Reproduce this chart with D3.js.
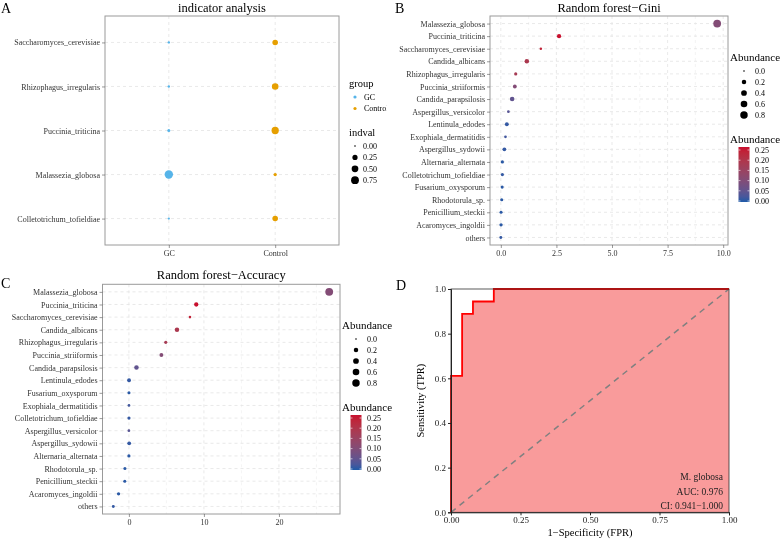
<!DOCTYPE html>
<html><head><meta charset="utf-8">
<script src="https://cdn.jsdelivr.net/npm/d3@7"></script>
<style>
body{margin:0;background:#fff}
#wrap{will-change:transform;width:784px;height:541px}
svg{display:block}
text{font-family:"Liberation Serif","Times New Roman",serif;-webkit-font-smoothing:antialiased}
</style>
</head><body>
<div id="wrap"><svg id="chart" width="784" height="541"></svg></div>
<script>
// ---------- Panel A: indicator analysis ----------
const indCats = ["Saccharomyces_cerevisiae","Rhizophagus_irregularis","Puccinia_triticina","Malassezia_globosa","Colletotrichum_tofieldiae"];
const indGroups = ["GC","Control"];
const indGC = [0.012,0.012,0.04,0.9,0.008];
const indControl = [0.31,0.49,0.63,0.056,0.31];
const indLegendTicks = [0,0.25,0.5,0.75];
const groupColors = ["#56B4E9","#E69F00"];

// ---------- Species abundance (size & colour) ----------
const species = ["Malassezia_globosa","Puccinia_triticina","Saccharomyces_cerevisiae","Candida_albicans","Rhizophagus_irregularis","Puccinia_striiformis","Candida_parapsilosis","Aspergillus_versicolor","Lentinula_edodes","Exophiala_dermatitidis","Aspergillus_sydowii","Alternaria_alternata","Colletotrichum_tofieldiae","Fusarium_oxysporum","Rhodotorula_sp.","Penicillium_steckii","Acaromyces_ingoldii","others"];
const abundSize  = [0.9,0.17,0.02,0.2,0.06,0.12,0.2,0.03,0.12,0.03,0.11,0.06,0.06,0.05,0.05,0.05,0.07,0.04];
const abundColor = [0.10,0.25,0.23,0.18,0.17,0.10,0.05,0.04,0.01,0.02,0.01,0.005,0.01,0.005,0.005,0.005,0.005,0.01];

// ---------- Panel B: Random forest - Gini ----------
const giniCats = species.slice();
const giniVals = [9.73,2.62,1.80,1.17,0.67,0.63,0.51,0.34,0.27,0.21,0.16,0.07,0.07,0.06,0.04,0.01,0.01,0.0];
const giniTicks = [0,2.5,5,7.5,10];

// ---------- Panel C: Random forest - Accuracy ----------
const accCats = ["Malassezia_globosa","Puccinia_triticina","Saccharomyces_cerevisiae","Candida_albicans","Rhizophagus_irregularis","Puccinia_striiformis","Candida_parapsilosis","Lentinula_edodes","Fusarium_oxysporum","Exophiala_dermatitidis","Colletotrichum_tofieldiae","Aspergillus_versicolor","Aspergillus_sydowii","Alternaria_alternata","Rhodotorula_sp.","Penicillium_steckii","Acaromyces_ingoldii","others"];
const accVals = [26.7,8.98,8.14,6.41,4.91,4.33,1.01,0.02,0.01,0.01,0.01,0.0,0.04,0.0,-0.53,-0.55,-1.38,-2.08];
const accTicks = [0,10,20];

const abSizeTicks = [0,0.2,0.4,0.6,0.8];
const abColorTicks = [0,0.05,0.10,0.15,0.20,0.25];

// ---------- Panel D: ROC ----------
const rocFPR = [0,0,0.04,0.04,0.079,0.079,0.154,0.154,1];
const rocTPR = [0,0.611,0.611,0.889,0.889,0.944,0.944,1,1];
const rocXTicks = [0,0.25,0.5,0.75,1];
const rocYTicks = [0,0.2,0.4,0.6,0.8,1];
const rocText = ["M. globosa","AUC: 0.976","CI: 0.941\u22121.000"];

const svg = d3.select("#chart");
const gridCol = "#e3e3e3", borderCol = "#9a9a9a", tickTxt = "#333";
const serif = "Liberation Serif, Times New Roman, serif";

function sizeScale(max){ return d3.scaleSqrt().domain([0,max]).range([0.8,3.9]); }
const colScale = d3.scaleLinear().domain([0,0.25]).range(["#1E5AA8","#C8102E"]).interpolate(d3.interpolateLab).clamp(true);

function styleAxis(g){
  g.attr("font-family",serif);
  g.select(".domain").remove();
  g.selectAll(".tick line").attr("stroke","#555").attr("stroke-width",0.6);
  g.selectAll(".tick text").attr("fill",tickTxt).attr("font-size","8px").attr("font-family",serif);
}

// ================= Panel A =================
(function(){
  const L=105,T=16,R=339,B=245;
  const g = svg.append("g");
  const x = d3.scalePoint().domain(indGroups).range([L,R]).padding(0.6);
  const y = d3.scalePoint().domain(indCats).range([T,B]).padding(0.6);
  const r = d3.scaleSqrt().domain([0,0.9]).range([0.8,4.2]);
  g.selectAll(".hg").data(indCats).join("line").attr("x1",L).attr("x2",R)
    .attr("y1",d=>y(d)).attr("y2",d=>y(d)).attr("stroke",gridCol).attr("stroke-dasharray","3,3").attr("stroke-width",0.8);
  g.selectAll(".vg").data(indGroups).join("line").attr("y1",T).attr("y2",B)
    .attr("x1",d=>x(d)).attr("x2",d=>x(d)).attr("stroke",gridCol).attr("stroke-dasharray","3,3").attr("stroke-width",0.8);
  const pts=[];
  indCats.forEach((c,i)=>{pts.push({c,g:"GC",v:indGC[i]});pts.push({c,g:"Control",v:indControl[i]});});
  g.selectAll("circle.p").data(pts).join("circle").attr("cx",d=>x(d.g)).attr("cy",d=>y(d.c))
    .attr("r",d=>r(d.v)).attr("fill",d=>groupColors[indGroups.indexOf(d.g)]);
  g.append("rect").attr("x",L).attr("y",T).attr("width",R-L).attr("height",B-T).attr("fill","none").attr("stroke",borderCol);
  g.append("g").attr("transform",`translate(${L},0)`).call(d3.axisLeft(y).tickSize(3).tickPadding(2)).call(styleAxis);
  g.append("g").attr("transform",`translate(0,${B})`).call(d3.axisBottom(x).tickSize(3).tickPadding(2)).call(styleAxis);
  g.append("text").attr("x",(L+R)/2).attr("y",12).attr("text-anchor","middle").attr("font-size","12.5px").text("indicator analysis");
  g.append("text").attr("x",1).attr("y",13).attr("font-size","14px").text("A");
  svg.append("clipPath").attr("id","clipA").append("rect").attr("x",340).attr("y",0).attr("width",46.5).attr("height",270);
  const lg = g.append("g").attr("clip-path","url(#clipA)");
  lg.append("text").attr("x",349).attr("y",87).attr("font-size","10.5px").text("group");
  indGroups.forEach((d,i)=>{
    lg.append("circle").attr("cx",355).attr("cy",97+i*11.5).attr("r",1.6).attr("fill",groupColors[i]);
    lg.append("text").attr("x",364).attr("y",97+i*11.5).attr("dy","0.35em").attr("font-size","8px").text(d);
  });
  lg.append("text").attr("x",349).attr("y",136).attr("font-size","10.5px").text("indval");
  indLegendTicks.forEach((d,i)=>{
    lg.append("circle").attr("cx",355).attr("cy",146+i*11.4).attr("r",r(d)).attr("fill","#000");
    lg.append("text").attr("x",363).attr("y",146+i*11.4).attr("dy","0.35em").attr("font-size","8px").text(d3.format(".2f")(d));
  });
})();

// ================= Panels B & C =================
function dotPanel(o){
  const {L,T,R,B,cats,vals,ticks,minor,title,letter,ly,lx} = o;
  const g = svg.append("g");
  const ext = d3.extent(vals), pad=(ext[1]-ext[0])*0.05;
  const x = d3.scaleLinear().domain([ext[0]-pad,ext[1]+pad]).range([L,R]);
  const y = d3.scalePoint().domain(cats).range([T,B]).padding(0.6);
  const r = sizeScale(d3.max(abundSize));
  g.selectAll(".mg").data(minor).join("line").attr("y1",T).attr("y2",B).attr("x1",d=>x(d)).attr("x2",d=>x(d))
    .attr("stroke","#ececec").attr("stroke-dasharray","3,3").attr("stroke-width",0.6);
  g.selectAll(".hg").data(cats).join("line").attr("x1",L).attr("x2",R).attr("y1",d=>y(d)).attr("y2",d=>y(d))
    .attr("stroke",gridCol).attr("stroke-dasharray","3,3").attr("stroke-width",0.8);
  g.selectAll(".vg").data(ticks).join("line").attr("y1",T).attr("y2",B).attr("x1",d=>x(d)).attr("x2",d=>x(d))
    .attr("stroke",gridCol).attr("stroke-dasharray","3,3").attr("stroke-width",0.8);
  g.selectAll("circle.p").data(cats).join("circle")
    .attr("cx",(d,i)=>x(vals[i])).attr("cy",d=>y(d))
    .attr("r",d=>r(abundSize[species.indexOf(d)]))
    .attr("fill",d=>colScale(abundColor[species.indexOf(d)]));
  g.append("rect").attr("x",L).attr("y",T).attr("width",R-L).attr("height",B-T).attr("fill","none").attr("stroke",borderCol);
  g.append("g").attr("transform",`translate(${L},0)`).call(d3.axisLeft(y).tickSize(3).tickPadding(2)).call(styleAxis);
  g.append("g").attr("transform",`translate(0,${B})`).call(d3.axisBottom(x).tickValues(ticks).tickFormat(o.fmt).tickSize(3).tickPadding(2)).call(styleAxis);
  g.append("text").attr("x",(L+R)/2).attr("y",o.titleY).attr("text-anchor","middle").attr("font-size","12.5px").text(title);
  g.append("text").attr("x",o.letterX).attr("y",o.letterY).attr("font-size","14px").text(letter);
  g.append("text").attr("x",lx).attr("y",ly+4).attr("font-size","11px").text("Abundance");
  abSizeTicks.forEach((d,i)=>{
    const cy = ly+14+i*11;
    g.append("circle").attr("cx",lx+14).attr("cy",cy).attr("r",r(d)).attr("fill","#000");
    g.append("text").attr("x",lx+25).attr("y",cy).attr("dy","0.35em").attr("font-size","8px").text(d3.format(".1f")(d));
  });
  g.append("text").attr("x",lx).attr("y",ly+86).attr("font-size","11px").text("Abundance");
  const bx=lx+8.5, bw=11, by0=ly+145, by1=ly+90;
  const cy = d3.scaleLinear().domain([0,0.25]).range([ly+144,ly+93]);
  const gid = "grad"+letter;
  const grad = svg.append("defs").append("linearGradient").attr("id",gid).attr("x1",0).attr("x2",0).attr("y1",1).attr("y2",0);
  d3.range(0,1.0001,0.1).forEach(t=>grad.append("stop").attr("offset",t).attr("stop-color",colScale(t*0.25)));
  g.append("rect").attr("x",bx).attr("y",by1).attr("width",bw).attr("height",by0-by1).attr("fill",`url(#${gid})`);
  abColorTicks.forEach(d=>{
    g.append("line").attr("x1",bx).attr("x2",bx+2).attr("y1",cy(d)).attr("y2",cy(d)).attr("stroke","#fff").attr("stroke-width",0.6);
    g.append("line").attr("x1",bx+bw-2).attr("x2",bx+bw).attr("y1",cy(d)).attr("y2",cy(d)).attr("stroke","#fff").attr("stroke-width",0.6);
    g.append("text").attr("x",lx+25).attr("y",cy(d)).attr("dy","0.35em").attr("font-size","8px").text(d3.format(".2f")(d));
  });
}
dotPanel({L:490,T:16,R:728,B:245,cats:giniCats,vals:giniCats.map(c=>giniVals[species.indexOf(c)]),ticks:giniTicks,minor:[1.25,3.75,6.25,8.75],
  fmt:d3.format(".1f"),title:"Random forest\u2212Gini",letter:"B",titleY:12,letterX:395,letterY:13,lx:730,ly:57});
dotPanel({L:102.5,T:284.3,R:340,B:514,cats:accCats,vals:accVals,ticks:accTicks,minor:[5,15,25],
  fmt:d3.format("d"),title:"Random forest\u2212Accuracy",letter:"C",titleY:279,letterX:1,letterY:288,lx:342,ly:325});

// ================= Panel D: ROC =================
(function(){
  const L=451,T=289,R=729,B=512.3;
  const g = svg.append("g");
  const x = d3.scaleLinear().domain([0,1]).range([L,R]);
  const y = d3.scaleLinear().domain([0,1]).range([B,T]);
  const pts = rocFPR.map((f,i)=>[f,rocTPR[i]]);
  g.append("path").datum(pts).attr("d",d3.area().x(d=>x(d[0])).y0(y(0)).y1(d=>y(d[1])))
    .attr("fill","#F99B9B");
  g.append("line").attr("x1",x(0)).attr("y1",y(0)).attr("x2",x(1)).attr("y2",y(1))
    .attr("stroke","#808080").attr("stroke-width",1.5).attr("stroke-dasharray","6,5");
  g.append("path").datum(pts).attr("d",d3.line().x(d=>x(d[0])).y(d=>y(d[1])))
    .attr("fill","none").attr("stroke","#FF0000").attr("stroke-width",1.8);
  g.append("rect").attr("x",L).attr("y",T).attr("width",R-L).attr("height",B-T).attr("fill","none").attr("stroke","#333").attr("stroke-width",0.8);
  const ax = g.append("g").attr("transform",`translate(0,${B})`).call(d3.axisBottom(x).tickValues(rocXTicks).tickFormat(d3.format(".2f")).tickSize(3).tickPadding(1.5));
  const ay = g.append("g").attr("transform",`translate(${L},0)`).call(d3.axisLeft(y).tickValues(rocYTicks).tickFormat(d3.format(".1f")).tickSize(3).tickPadding(2));
  [ax,ay].forEach(a=>{a.attr("font-family",serif);a.select(".domain").attr("stroke","#222");a.selectAll(".tick line").attr("stroke","#222");
    a.selectAll(".tick text").attr("fill","#222").attr("font-size","9px").attr("font-family",serif);});
  g.append("text").attr("x",(L+R)/2).attr("y",536).attr("text-anchor","middle").attr("font-size","10.5px").text("1\u2212Specificity (FPR)");
  g.append("text").attr("transform",`translate(424,${(T+B)/2}) rotate(-90)`).attr("text-anchor","middle").attr("font-size","10.5px").text("Sensitivity (TPR)");
  rocText.forEach((t,i)=>g.append("text").attr("x",723).attr("y",477+i*14.2).attr("dy","0.35em").attr("text-anchor","end").attr("font-size","9.5px").attr("fill","#222").text(t));
  g.append("text").attr("x",396).attr("y",290).attr("font-size","14px").text("D");
})();
</script>
</body></html>
